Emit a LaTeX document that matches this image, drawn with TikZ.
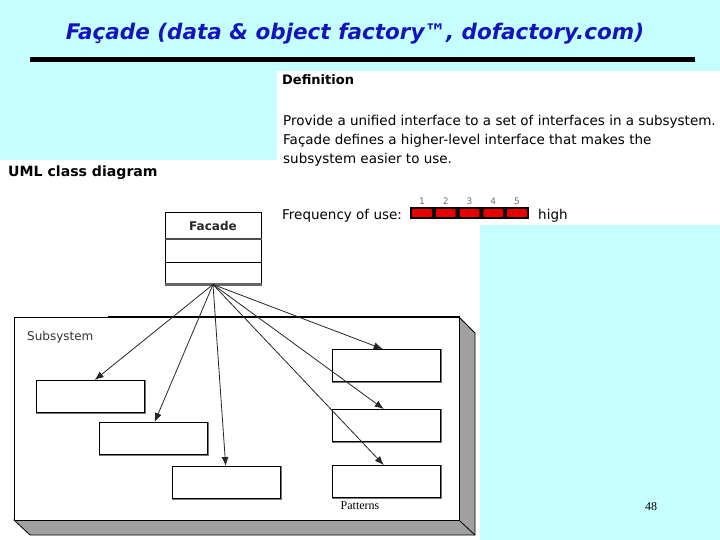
\documentclass[tikz,border=0pt]{standalone}
\usepackage{fontspec}
\setmainfont{DejaVu Sans}
\newfontfamily\serifx{Liberation Serif}
\usetikzlibrary{arrows.meta,calc}
\definecolor{bgcyan}{RGB}{198,255,255}
\definecolor{titleblue}{RGB}{20,20,190}
\definecolor{shadowgray}{RGB}{160,160,160}
\definecolor{edgegray}{RGB}{120,120,120}
\definecolor{barred}{RGB}{235,0,0}
\begin{document}
\begin{tikzpicture}[x=1pt,y=-1pt,
  txt/.style={anchor=base west, inner sep=0pt, font=\fontsize{13.5}{16}\selectfont},
  cls/.style={draw=black, fill=white, line width=1.4pt, minimum width=108pt, minimum height=32pt, inner sep=0pt, anchor=north west},
  clsshade/.style={draw=edgegray, line width=1.6pt},
  assoc/.style={draw=black!85, line width=0.8pt, -{Latex[length=9pt,width=7pt]}},
]
\useasboundingbox (0,0) rectangle (720,540);
\fill[bgcyan] (0,0) rectangle (720,540);
\fill[white] (277,71) rectangle (720,225);
\fill[white] (0,160) rectangle (480,540);

% title
\node[anchor=base, inner sep=0pt, text=titleblue, font=\fontsize{21.5}{24}\selectfont\bfseries\itshape] (title) at (355,40) {Façade (data \& object factory™, dofactory.com)};
\draw[line width=5pt] (30,60) -- (695,60);

% definition
\node[txt, font=\fontsize{13}{16}\selectfont\bfseries] (defhead) at (282,85) {Definition};
\node[txt] (def1) at (283,126) {Provide a unified interface to a set of interfaces in a subsystem.};
\node[txt] (def2) at (283,145) {Façade defines a higher-level interface that makes the};
\node[txt] (def3) at (283,164) {subsystem easier to use.};

% frequency
\node[txt] (freq) at (282,219) {Frequency of use:};
\node[fill=black, minimum width=119pt, minimum height=12pt, inner sep=0pt, anchor=north west] (bar) at (410,207) {};
\foreach \i in {0,...,4}
  \fill[barred, rounded corners=1pt] ($(bar.north west)+(\i*23.8+2,2)$) rectangle +(19.8,8);
\foreach \i in {1,...,5}
  \node[anchor=base, inner sep=0pt, font=\fontsize{9}{10}\selectfont, text=black!55] (num\i) at (410+\i*23.8-11.9,205) {\i};
\node[txt] (high) at (538,219) {high};

% UML heading
\node[txt, font=\fontsize{14.1}{17}\selectfont\bfseries] (umlhead) at (8,177) {UML class diagram};

% Facade class
\node[draw, fill=white, minimum width=96pt, minimum height=71pt, inner sep=0pt, line width=1pt] (facade) at (213,248.5) {};
\node[anchor=base, inner sep=0pt, font=\fontsize{12}{14}\selectfont\bfseries, text=black!85] (facadename) at (213,230) {Facade};
\draw[line width=2.2pt, draw=black!70] (facade.west |- 0,239) -- (facade.east |- 0,239);
\draw[line width=0.8pt] (facade.west |- 0,262) -- (facade.east |- 0,262);
\draw[line width=2.2pt, draw=black!60] (facade.south west) -- (facade.south east);

% Subsystem package with 3D shadow
\fill[shadowgray, draw=black, line width=0.8pt] (459,317) -- (475,333) -- (475,535) -- (30,535) -- (14,520) -- (459,520) -- cycle;
\node[draw, fill=white, line width=1.2pt, anchor=north west, minimum width=445pt, minimum height=203pt, inner sep=0pt] (subsys) at (14,317) {};
\draw[line width=2.2pt] (108,317) -- (subsys.north east);
\draw[line width=0.8pt] (subsys.south east) -- (475,535);
\node[txt, font=\fontsize{12}{14}\selectfont, text=black!80] (sublabel) at (27,340) {Subsystem};

% subsystem classes
\node[cls] (c1) at (36,380) {};
\node[cls] (c2) at (99,422) {};
\node[cls] (c3) at (172,466) {};
\node[cls] (c4) at (332,349) {};
\node[cls] (c5) at (332,409) {};
\node[cls] (c6) at (332,465) {};
\foreach \c in {c1,c2,c3,c4,c5,c6}
  \draw[clsshade] (\c.north east) -- (\c.south east) -- (\c.south west);

% associations
\draw[assoc] (facade.south) -- ([xshift=4pt]c1.north);
\draw[assoc] (facade.south) -- ([xshift=1pt]c2.north);
\draw[assoc] (facade.south) -- ([xshift=-1pt]c3.north);
\draw[assoc] (facade.south) -- ([xshift=-4pt]c4.north);
\draw[assoc] (facade.south) -- ([xshift=-3pt]c5.north);
\draw[assoc] (facade.south) -- ([xshift=-3pt]c6.north);

% footer
\node[anchor=base, inner sep=0pt, font=\serifx\fontsize{12}{14}\selectfont] (footer) at (360,509) {Patterns};
\node[anchor=base, inner sep=0pt, font=\serifx\fontsize{12}{14}\selectfont] (pageno) at (651,510) {48};
\end{tikzpicture}
\end{document}
